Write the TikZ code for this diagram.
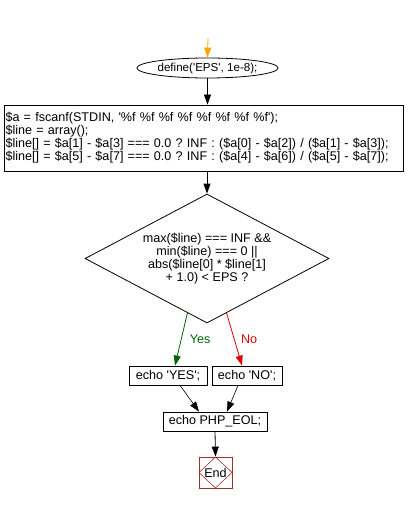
\documentclass[tikz,border=0pt]{standalone}
\usepackage{fontspec}
\setmainfont{Liberation Sans}[Ligatures=TeXOff]
\usetikzlibrary{shapes.geometric,arrows.meta,calc}
\frenchspacing

\definecolor{startC}{HTML}{FFA500}
\definecolor{yesC}{HTML}{006400}
\definecolor{noC}{HTML}{E00000}
\definecolor{endC}{HTML}{A03030}

\begin{document}
\begin{tikzpicture}[
  x=1pt, y=-1pt,
  txt/.style={font=\fontsize{12.6}{13}\selectfont},
  procbox/.style={draw, line width=0.8pt, inner sep=0pt, txt},
  flow/.style={line width=0.8pt, -{Triangle[width=7pt,length=10pt]}},
]
\useasboundingbox (0,0) rectangle (412,505);

% start and define
\coordinate (start) at (208,38);
\node[ellipse, draw, line width=0.8pt, inner sep=0pt, minimum width=127pt,
      minimum height=20pt, font=\fontsize{11.6}{13}\selectfont] (eps) at (207.5,68) {define('EPS', 1e-8);};

% input block
\node[procbox, minimum width=399pt, minimum height=66pt, text width=396pt,
      align=left] (read) at (203.5,138)
  {\$a = fscanf(STDIN, '\%f \%f \%f \%f \%f \%f \%f \%f');\\
   \$line = array();\\
   \$line[] = \$a[1] - \$a[3] === 0.0 ? INF : (\$a[0] - \$a[2]) / (\$a[1] - \$a[3]);\\
   \$line[] = \$a[5] - \$a[7] === 0.0 ? INF : (\$a[4] - \$a[6]) / (\$a[5] - \$a[7]);};

% decision
\node[diamond, draw, line width=0.8pt, inner sep=0pt, shape aspect=1.9,
      minimum width=244pt, minimum height=129pt, align=center, txt] (test) at (207,258.5)
  {max(\$line) === INF \&\&\\ min(\$line) === 0 ||\\ abs(\$line[0] * \$line[1]\\ + 1.0) < EPS ?};

% outputs
\node[procbox, minimum width=78pt, minimum height=19pt] (yes) at (168,375.5) {echo 'YES';};
\node[procbox, minimum width=70pt, minimum height=19pt] (no) at (247,375.5) {echo 'NO';};
\node[procbox, minimum width=104pt, minimum height=19pt] (eol) at (215,421.5) {echo PHP\_EOL;};

% end mark
\node[draw=endC, line width=0.8pt, minimum width=33pt, minimum height=31pt, inner sep=0pt, txt,
      path picture={\draw[endC, line width=0.6pt] (path picture bounding box.north)
        -- (path picture bounding box.east) -- (path picture bounding box.south)
        -- (path picture bounding box.west) -- cycle;}] (stop) at (215.5,472.5) {End};

% connectors
\draw[flow, draw=startC, -{Triangle[width=7pt,length=10pt,fill=startC]}] (start) -- (eps.north);
\draw[flow] (eps.south) -- (eps.south |- read.north);
\draw[flow] (read.south -| test.north) -- (test.north);
\draw[flow, draw=yesC, -{Triangle[width=7pt,length=10pt,fill=yesC]}]
  ($(test.south)!0.16!(test.west)$) -- node[right=5pt, txt, text=yesC] {Yes} ($(yes.north)+(7,0)$);
\draw[flow, draw=noC, -{Triangle[width=7pt,length=10pt,fill=noC]}]
  ($(test.south)!0.16!(test.east)$) -- node[right=3pt, txt, text=noC] {No} ($(no.north)+(-5,0)$);
\draw[flow, line width=0.6pt] ($(yes.south)+(12,0)$) -- ($(eol.north)+(-16,0)$);
\draw[flow, line width=0.6pt] ($(no.south)+(-9,0)$) -- ($(eol.north)+(12,0)$);
\draw[flow] (eol.south) -- (stop.north);
\end{tikzpicture}
\end{document}
